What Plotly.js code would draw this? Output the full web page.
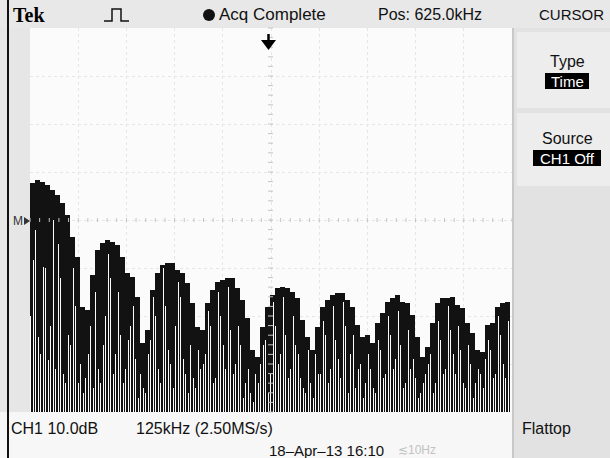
<!DOCTYPE html>
<html><head><meta charset="utf-8">
<script src="https://cdn.plot.ly/plotly-3.0.1.min.js"></script>
<style>html,body{margin:0;padding:0;background:#f4f4f4}#chart{width:610px;height:458px}</style>
</head><body><div id="chart"></div>
<script>
// FFT spectrum, CH1 10 dB/div, 0..1250 kHz, one value per display bin (top of trace, dB above bottom of screen)
const peakDb = [47.7,48.3,47.9,47.3,46.3,45.2,43.5,41.0,36.5,32.3,21.9,21.3,28.5,33.8,35.2,35.8,35.4,34.8,32.3,29.0,
28.1,24.0,14.4,17.1,25.4,29.0,30.6,31.0,31.0,29.6,29.0,26.9,22.7,17.7,17.1,22.7,25.4,27.1,27.5,27.9,
27.9,25.8,23.3,19.6,12.9,11.5,17.7,21.9,24.4,25.8,26.0,25.8,25.0,23.8,19.2,15.6,12.9,17.7,21.9,23.3,
24.4,24.8,24.8,23.3,21.9,18.1,15.6,16.0,14.4,18.5,20.6,22.9,23.8,24.4,22.9,22.7,20.2,15.6,11.5,13.5,
18.5,22.7,23.8,23.8,24.0,22.3,21.7,18.5,16.5,12.9,12.5,18.1,18.5,21.9,22.7,22.9];
// levels reached by the thin white dips inside each bin
const dipDb = [31.7,15.6,30.2,10.8,40.0,35.0,8.0,16.0,30.0,6.0,4.0,12.0,5.0,9.0,14.0,33.0,8.0,25.0,6.0,15.0,
22.0,3.0,5.0,12.0,24.0,9.0,30.0,13.0,5.0,27.0,11.0,4.0,7.0,13.0,10.0,21.0,6.0,25.0,14.0,26.0,
8.0,18.0,3.0,9.0,2.0,6.0,14.0,4.0,23.0,10.0,24.0,7.0,20.0,12.0,5.0,13.0,3.0,8.0,19.0,6.0,
22.0,11.0,23.0,4.0,16.0,9.0,3.0,12.0,5.0,15.0,7.0,20.0,9.0,21.0,5.0,17.0,11.0,3.0,6.0,10.0,
4.0,19.0,8.0,22.0,12.0,18.0,6.0,14.0,3.0,9.0,5.0,15.0,7.0,20.0,10.0,19.0];
const dip2Db = [20,38,12,30,18,9,28,6,14,22,10,7,18,25,6,20,28,12,16,9,
18,11,8,4,15,20,6,22,10,18,24,8,14,5,9,12,18,7,20,9,
17,10,14,6,4,8,10,15,8,18,12,16,9,14,7,4,6,12,8,16,
9,15,7,18,12,5,10,6,9,4,13,8,16,11,14,6,9,7,4,8,
12,6,15,9,17,8,13,5,10,6,8,11,13,8,16,7];

const L=30,R=512,T=28,B=412;
const px = x => (x-L)/(R-L);
const py = y => (B-y)/(B-T);
const FONT = 'Liberation Sans, Arial, sans-serif';
const BG = '#fbfbfb';

const traces = [
  {type:'bar', y: peakDb, marker:{color:'#121212', line:{width:0}}, hoverinfo:'skip'},
  {type:'bar', y: dipDb, width:0.3, offset:0.05, marker:{color:BG, line:{width:0}}, hoverinfo:'skip'},
  {type:'bar', y: dip2Db, width:0.2, offset:-0.45, marker:{color:BG, line:{width:0}}, hoverinfo:'skip'}
];

const shapes = [];
function rect(x0,y0,x1,y1,fill,line){shapes.push({type:'rect',xref:'paper',yref:'paper',x0:px(x0),x1:px(x1),y0:py(y1),y1:py(y0),fillcolor:fill,line:line||{width:0},layer:'below'});}
function seg(x0,y0,x1,y1,color,w,layer){shapes.push({type:'line',xref:'paper',yref:'paper',x0:px(x0),x1:px(x1),y0:py(y0),y1:py(y1),line:{color:color,width:w},layer:layer||'above'});}
// backgrounds
rect(0,0,610,28,'#e8e8e8');
rect(0,28,30,412,'#e6e6e6');
rect(0,412,513,458,'#f7f7f7');
rect(513,28,610,458,'#e2e2e2');
rect(517,32,610,108,'#ededed');
rect(517,113,610,186,'#ededed');
seg(8,0,8,458,'#111',2);
seg(513,28,513,458,'#c8c8c8',2);
// graticule centre tick marks
for(let k=0;k<=40;k++){const y=T+k*9.6; seg(268,y,273,y,'#c4c4c4',1);}
for(let k=0;k<=50;k++){const x=L+k*9.64; seg(x,218,x,222,'#c4c4c4',1);}
// trigger arrow
shapes.push({type:'path',xref:'paper',yref:'paper',path:`M ${px(261)},${py(40)} L ${px(276)},${py(40)} L ${px(268.5)},${py(50)} Z`,fillcolor:'#000',line:{width:0}});
seg(268.5,34,268.5,41,'#000',2.5);
// pulse icon
shapes.push({type:'path',xref:'paper',yref:'paper',path:`M ${px(104)},${py(21)} L ${px(112)},${py(21)} L ${px(112)},${py(9)} L ${px(121)},${py(9)} L ${px(121)},${py(21)} L ${px(129)},${py(21)}`,line:{color:'#111',width:1.5}});
// acquisition dot
shapes.push({type:'circle',xref:'paper',yref:'paper',x0:px(203),x1:px(215),y0:py(21),y1:py(9),fillcolor:'#111',line:{width:0}});
// inverted menu labels
rect(545,73,589,89,'#000');
rect(533,150,601,166,'#000');
// M marker arrow
shapes.push({type:'path',xref:'paper',yref:'paper',path:`M ${px(24)},${py(217)} L ${px(30)},${py(221)} L ${px(24)},${py(225)} Z`,fillcolor:'#333',line:{width:0}});

function ann(text,x,y,opt){return Object.assign({text:text,xref:'paper',yref:'paper',x:px(x),y:py(y),xanchor:'left',yanchor:'middle',showarrow:false,font:{family:FONT,size:16,color:'#111'}},opt||{});}
const annotations = [
  ann('<b>Tek</b>',11,15,{font:{family:'Liberation Serif, serif',size:20,color:'#000'}}),
  ann('Acq Complete',217,15,{font:{family:FONT,size:17,color:'#111'}}),
  ann('Pos: 625.0kHz',376,15),
  ann('CURSOR',606,15,{xanchor:'right',font:{family:FONT,size:15,color:'#111'}}),
  ann('Type',567,61,{xanchor:'center'}),
  ann('Time',567,81,{xanchor:'center',font:{family:FONT,size:15,color:'#fff'}}),
  ann('Source',567,138,{xanchor:'center'}),
  ann('CH1 Off',567,158,{xanchor:'center',font:{family:FONT,size:15,color:'#fff'}}),
  ann('M',11,221,{font:{family:FONT,size:12,color:'#333'}}),
  ann('CH1 10.0dB',9,428),
  ann('125kHz (2.50MS/s)',134,428),
  ann('Flattop',520,428),
  ann('18\u2013Apr\u201313 16:10',267,450,{font:{family:FONT,size:15,color:'#111'}}),
  ann('\u227210Hz',396,450,{font:{family:FONT,size:12,color:'#c2c2c2'}})
];

const layout = {
  width:610,height:458,
  margin:{l:30,r:98,t:28,b:46,pad:0},
  paper_bgcolor:'#f4f4f4', plot_bgcolor:BG,
  showlegend:false, barmode:'overlay', bargap:0,
  xaxis:{range:[-0.5,95.9],showgrid:true,gridcolor:'#e6e6e6',griddash:'dot',gridwidth:1,tick0:-0.5,dtick:9.64,showticklabels:false,ticks:'',zeroline:false,showline:false,fixedrange:true},
  yaxis:{range:[0,80],showgrid:true,gridcolor:'#e6e6e6',griddash:'dot',gridwidth:1,dtick:10,showticklabels:false,ticks:'',zeroline:false,showline:false,fixedrange:true},
  shapes:shapes, annotations:annotations
};
Plotly.newPlot('chart',traces,layout,{staticPlot:true,displayModeBar:false});
</script></body></html>
